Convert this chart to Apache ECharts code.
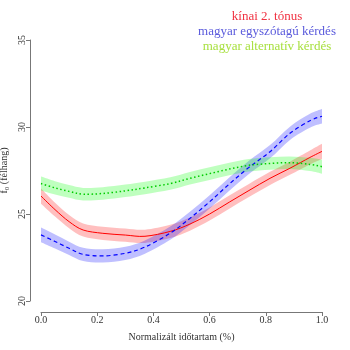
<!DOCTYPE html>
<html><head><meta charset="utf-8">
<script src="https://cdn.jsdelivr.net/npm/echarts@6/dist/echarts.min.js"></script>
<style>html,body{margin:0;padding:0;background:#fff}#c{width:350px;height:350px}</style>
</head><body><div id="c"></div>
<script>
// Normalized time points
var tPoints = [0, 0.05, 0.1, 0.15, 0.22, 0.3, 0.37, 0.46, 0.53, 0.6, 0.67, 0.74, 0.815, 0.886, 0.957, 1.0];
// kínai 2. tónus
var redMean = [26.03, 25.25, 24.56, 24.08, 23.89, 23.79, 23.72, 24.0, 24.42, 25.0, 25.68, 26.35, 27.05, 27.63, 28.25, 28.6];
var redHalf = [0.44, 0.40, 0.38, 0.38, 0.38, 0.38, 0.38, 0.38, 0.38, 0.38, 0.38, 0.38, 0.38, 0.38, 0.40, 0.44];
// magyar egyszótagú kérdés
var blueMean = [23.8, 23.42, 23.03, 22.68, 22.59, 22.74, 23.1, 23.9, 24.75, 25.7, 26.72, 27.68, 28.58, 29.64, 30.36, 30.62];
var blueHalf = [0.42, 0.40, 0.38, 0.38, 0.38, 0.38, 0.38, 0.38, 0.38, 0.38, 0.38, 0.38, 0.38, 0.38, 0.40, 0.42];
// magyar alternatív kérdés
var greenMean = [26.75, 26.5, 26.3, 26.14, 26.18, 26.33, 26.5, 26.75, 27.05, 27.32, 27.58, 27.8, 27.9, 27.95, 27.85, 27.72];
var greenHalf = [0.40, 0.38, 0.36, 0.36, 0.36, 0.36, 0.36, 0.36, 0.36, 0.36, 0.36, 0.36, 0.36, 0.36, 0.38, 0.40];
var xTicks = [0, 0.2, 0.4, 0.6, 0.8, 1.0];
var yTicks = [20, 25, 30, 35];
var legendNames = ['kínai 2. tónus', 'magyar egyszótagú kérdés', 'magyar alternatív kérdés'];

var FONT = 'Liberation Serif';

// Catmull-Rom spline through pixel points -> SVG path segments
function splinePath(pts, start) {
  var d = start ? ('M' + pts[0][0] + ' ' + pts[0][1]) : ('L' + pts[0][0] + ' ' + pts[0][1]);
  for (var i = 0; i < pts.length - 1; i++) {
    var p0 = pts[Math.max(0, i - 1)], p1 = pts[i], p2 = pts[i + 1], p3 = pts[Math.min(pts.length - 1, i + 2)];
    var c1x = p1[0] + (p2[0] - p0[0]) / 6, c1y = p1[1] + (p2[1] - p0[1]) / 6;
    var c2x = p2[0] - (p3[0] - p1[0]) / 6, c2y = p2[1] - (p3[1] - p1[1]) / 6;
    d += 'C' + c1x + ' ' + c1y + ' ' + c2x + ' ' + c2y + ' ' + p2[0] + ' ' + p2[1];
  }
  return d;
}
function bandSeries(mean, half, color) {
  return {
    type: 'custom', silent: true, clip: false, z: 1,
    data: [[0]],
    renderItem: function (params, api) {
      var up = tPoints.map(function (t, i) { return api.coord([t, mean[i] + half[i]]); });
      var lo = tPoints.map(function (t, i) { return api.coord([t, mean[i] - half[i]]); }).reverse();
      return { type: 'path', shape: { pathData: splinePath(up, true) + splinePath(lo, false) + 'Z' },
        style: { fill: color, stroke: null } };
    }
  };
}
function lineSeries(mean, color, dash, width) {
  return {
    type: 'custom', silent: true, clip: false, z: 3,
    data: [[0]],
    renderItem: function (params, api) {
      var pts = tPoints.map(function (t, i) { return api.coord([t, mean[i]]); });
      return { type: 'path', shape: { pathData: splinePath(pts, true) },
        style: { fill: null, stroke: color, lineWidth: width, lineDash: dash } };
    }
  };
}
var series = [
  bandSeries(redMean, redHalf, 'rgba(255,0,0,0.25)'),
  bandSeries(blueMean, blueHalf, 'rgba(0,0,255,0.25)'),
  bandSeries(greenMean, greenHalf, 'rgba(0,255,0,0.25)'),
  lineSeries(redMean, '#ff0000', null, 1),
  lineSeries(blueMean, '#0000ff', [4, 3], 1.2),
  lineSeries(greenMean, '#00cc00', [1.5, 2.5], 1.5)
];

var chart = echarts.init(document.getElementById('c'), null, { renderer: 'canvas' });
chart.setOption({
  animation: false,
  backgroundColor: '#fff',
  grid: { left: 41, right: 28, top: 40, bottom: 49, containLabel: false, outerBoundsMode: 'none' },
  xAxis: {
    type: 'value', min: xTicks[0], max: xTicks[xTicks.length - 1], interval: 0.2,
    offset: 11,
    axisLine: { show: true, onZero: false, lineStyle: { color: '#777', width: 1 } },
    axisTick: { show: true, length: 4, lineStyle: { color: '#777' } },
    axisLabel: { fontFamily: FONT, fontSize: 10, color: '#333', margin: 3,
      formatter: function (v) { return v.toFixed(1); } },
    splitLine: { show: false },
    name: 'Normalizált időtartam (%)', nameLocation: 'middle', nameGap: 20,
    nameTextStyle: { fontFamily: FONT, fontSize: 10, color: '#333' }
  },
  yAxis: {
    type: 'value', min: yTicks[0], max: yTicks[yTicks.length - 1], interval: 5,
    offset: 11,
    axisLine: { show: true, onZero: false, lineStyle: { color: '#777', width: 1 } },
    axisTick: { show: true, length: 4, lineStyle: { color: '#777' } },
    axisLabel: { fontFamily: FONT, fontSize: 10, color: '#333', rotate: 90, margin: 3 },
    splitLine: { show: false },
    name: 'f₀ (félhang)', nameLocation: 'middle', nameGap: 20, nameRotate: 90,
    nameTextStyle: { fontFamily: FONT, fontSize: 10, color: '#333' }
  },
  graphic: [
    { type: 'text', x: 267, y: 17, style: { text: legendNames[0], fill: '#f03040', font: '13px "Liberation Serif"', align: 'center', verticalAlign: 'middle' } },
    { type: 'text', x: 267, y: 32, style: { text: legendNames[1], fill: '#5a5adc', font: '13px "Liberation Serif"', align: 'center', verticalAlign: 'middle' } },
    { type: 'text', x: 267, y: 47, style: { text: legendNames[2], fill: '#a8e040', font: '13px "Liberation Serif"', align: 'center', verticalAlign: 'middle' } }
  ],
  series: series
});
</script></body></html>
